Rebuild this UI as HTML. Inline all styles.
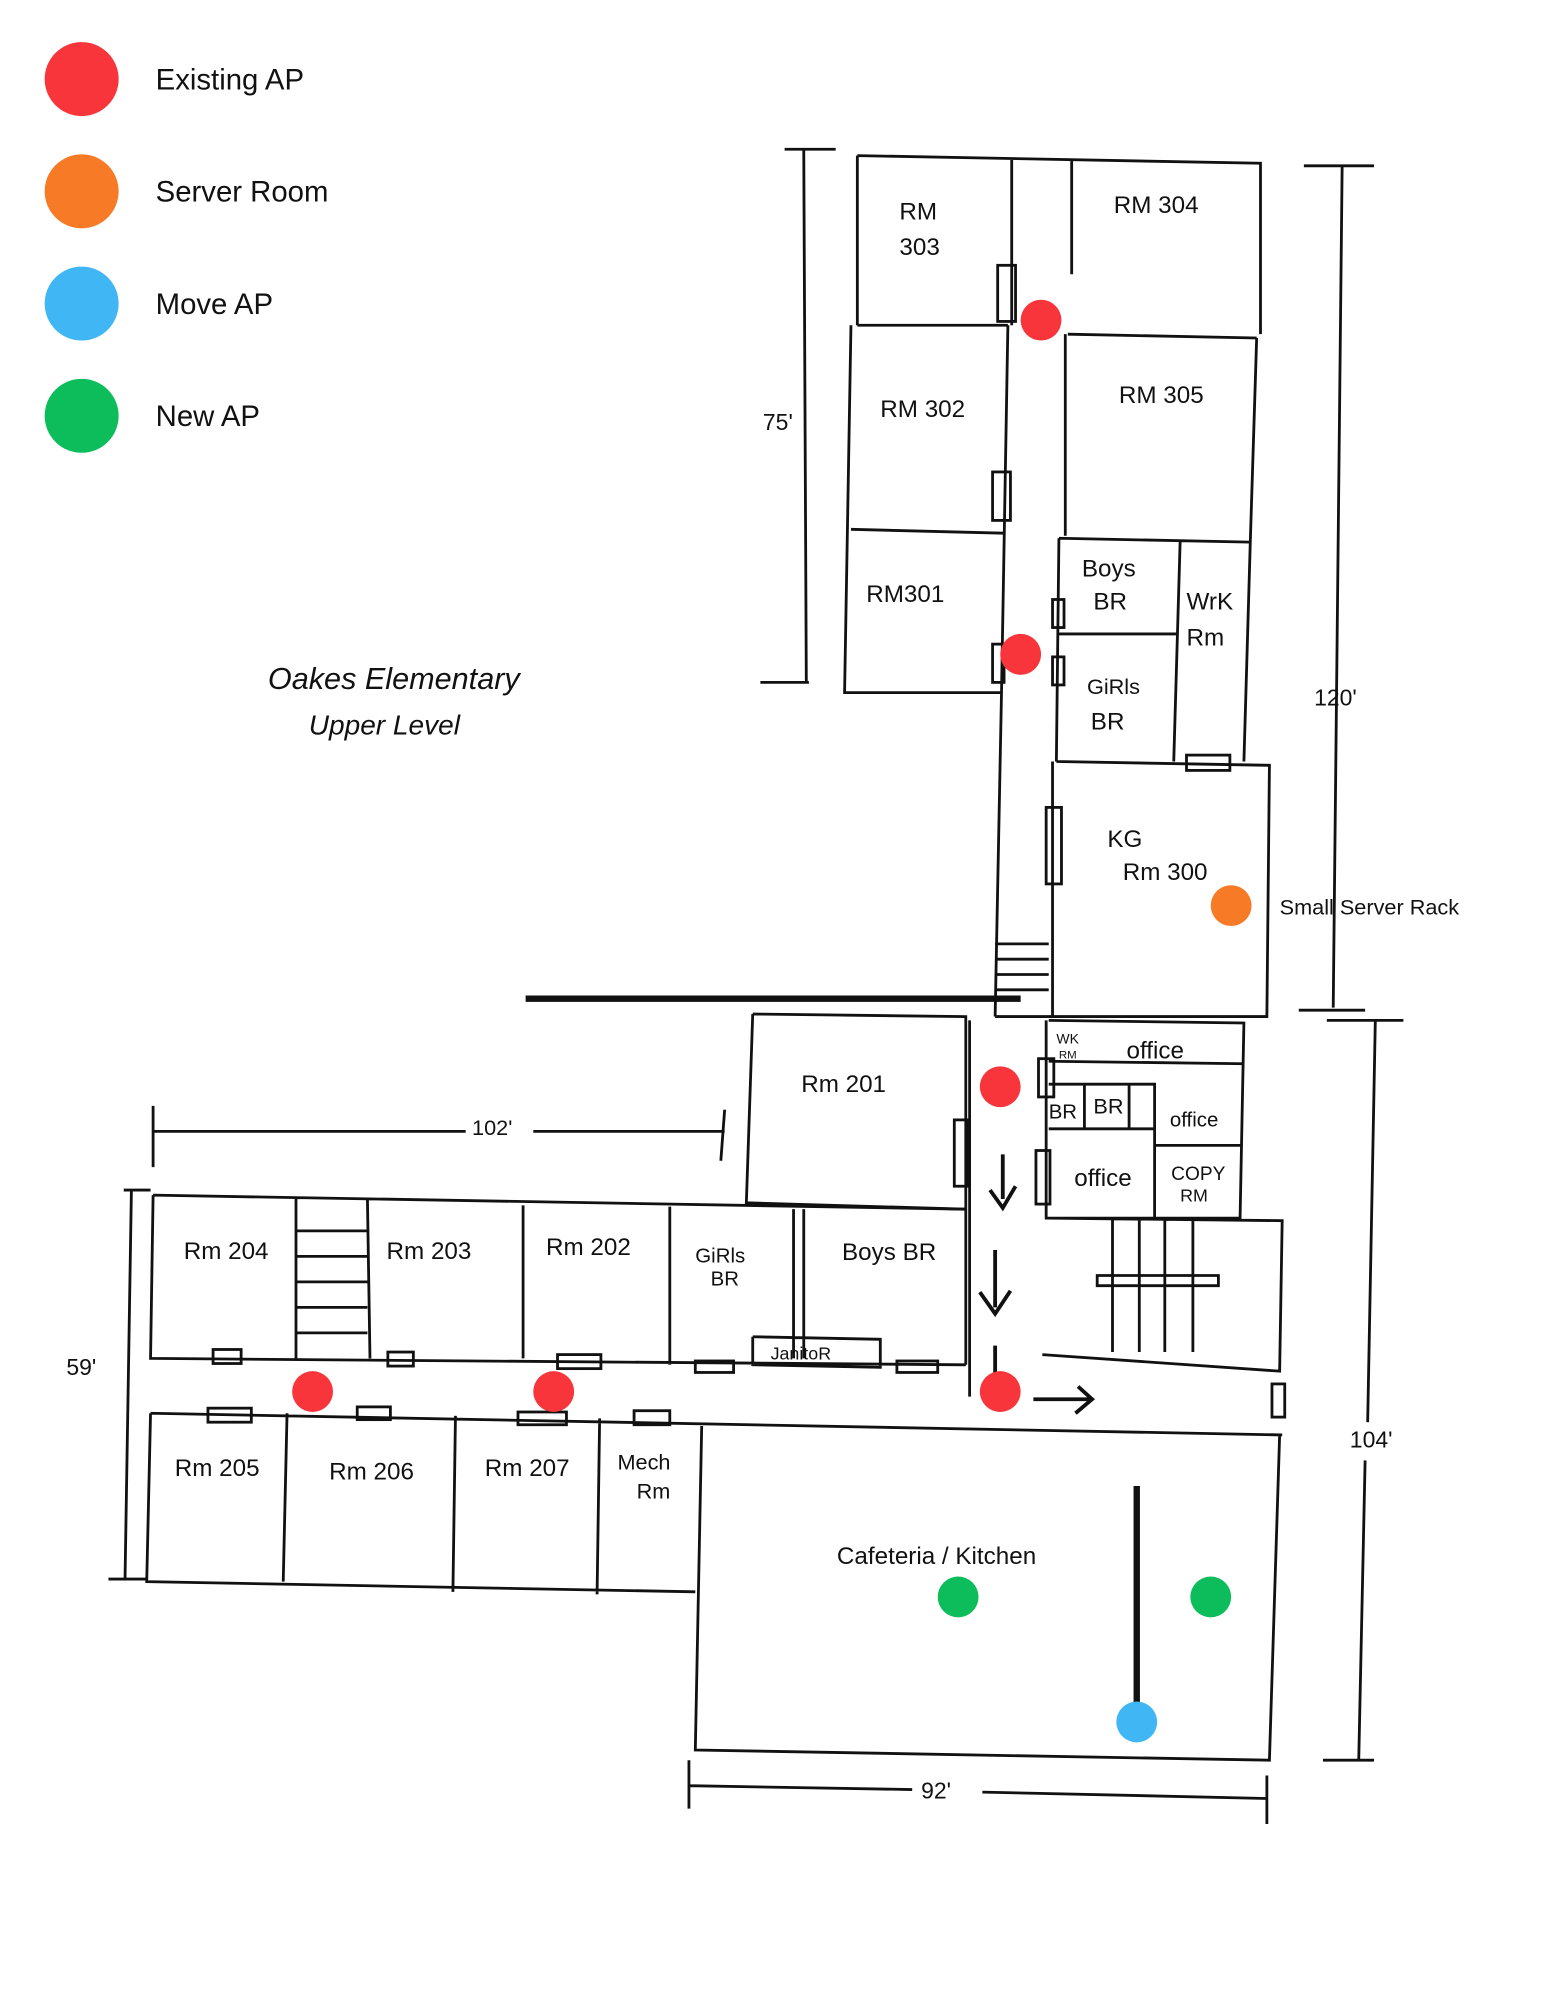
<!DOCTYPE html>
<html><head><meta charset="utf-8"><style>
html,body{margin:0;padding:0;background:#fff;}
svg{display:block;}
text{font-family:"Liberation Sans",sans-serif;fill:#111;}
.h{font-family:"Liberation Serif",serif;font-size:19px;}
</style></head><body>
<svg width="1545" height="2000" viewBox="0 0 1211 1568" preserveAspectRatio="none" xmlns="http://www.w3.org/2000/svg">
<!-- legend -->
<circle cx="64" cy="62" r="29" fill="#f7353a"/>
<circle cx="64" cy="150" r="29" fill="#f77b27"/>
<circle cx="64" cy="238" r="29" fill="#41b6f5"/>
<circle cx="64" cy="326" r="29" fill="#0dbd5b"/>
<text x="122" y="70" font-size="23">Existing AP</text>
<text x="122" y="158" font-size="23">Server Room</text>
<text x="122" y="246" font-size="23">Move  AP</text>
<text x="122" y="334" font-size="23">New AP</text>

<g stroke="#111" stroke-width="2.2" fill="none">
<path d="M672 122 L988 128 L988 262 M672 122 L672 255 M793 124 L793 255 M840 125 L840 215 M837 262 L985 265 M672 255 L790 255 M667 255 L662 543 L785 543 M667 415 L787 418 M790 255 L785 543 M835 262 L835 420 M985 265 L980 425 M830 422 L980 425 M830 422 L828 597 M830 497 L922 497 M925 425 L920 597 M980 425 L975 597 M828 597 L995 600 L993 797 L780 797 M785 543 L780 797 M825 597 L825 797"/>
<rect x="782" y="208" width="14" height="44"/>
<rect x="778" y="370" width="14" height="38"/>
<rect x="825" y="470" width="9" height="22"/>
<rect x="825" y="515" width="9" height="22"/>
<rect x="778" y="505" width="9" height="30"/>
<rect x="930" y="592" width="34" height="12"/>
<rect x="820" y="633" width="12" height="60"/>
<path d="M780 740 L822 740 M780 752 L822 752 M780 764 L822 764 M780 776 L822 776"/>
<path d="M615 117 L655 117 M630 117 L632 535 M596 535 L634 535 M1022 130 L1077 130 M1052 130 L1045 790 M1018 792 L1070 792"/>
<path d="M590 795 L757 797 L757 1070 M590 795 L585 943 L757 948 M822 800 L975 802 L972 955 L820 955 L820 800 M822 832 L975 834 M822 850 L905 850 L905 955 M850 850 L850 885 M885 850 L885 885 M822 885 L905 885 M905 898 L972 898 M820 955 L1005 957 L1003 1075 L817 1062 M872 955 L872 1060 M893 955 L893 1060 M913 955 L913 1060 M935 955 L935 1060 M860 1000 L955 1000 L955 1008 L860 1008 Z M760 800 L760 1095"/>
<rect x="748" y="878" width="11" height="52"/>
<rect x="814" y="830" width="12" height="30"/>
<rect x="812" y="902" width="11" height="42"/>
<path d="M120 937 L757 948 M120 937 L118 1065 L757 1070 M232 940 L232 1065 M288 940 L290 1065 M410 945 L410 1065 M525 946 L525 1070 M622 948 L622 1065 M630 948 L630 1065 M232 965 L288 965 M232 985 L288 985 M232 1005 L288 1005 M232 1025 L288 1025 M232 1045 L288 1045 M118 1108 L1005 1125 M118 1108 L115 1240 L545 1248 M225 1108 L222 1240 M357 1110 L355 1248 M470 1112 L468 1250 M550 1118 L545 1372 L995 1380 L1003 1125 M590 1048 L590 1070 L690 1072 L690 1050 L590 1048"/>
<rect x="167" y="1058" width="22" height="11"/><rect x="304" y="1060" width="20" height="11"/><rect x="437" y="1062" width="34" height="11"/><rect x="545" y="1067" width="30" height="9"/><rect x="703" y="1067" width="32" height="9"/>
<rect x="163" y="1104" width="34" height="11"/><rect x="280" y="1103" width="26" height="10"/><rect x="406" y="1107" width="38" height="10"/><rect x="497" y="1106" width="28" height="11"/>
<rect x="997" y="1085" width="10" height="26"/>
<path d="M120 867 L120 915 M120 887 L365 887 M418 887 L568 887 M568 870 L565 910 M97 933 L118 933 M103 933 L98 1238 M85 1238 L115 1238 M1040 800 L1100 800 M1078 800 L1072 1115 M1070 1145 L1065 1380 M1037 1380 L1077 1380 M540 1380 L540 1418 M540 1400 L715 1403 M770 1405 L993 1410 M993 1392 L993 1430"/>
<path d="M786 905 L786 940 M776 933 L786 947 L796 930 M780 980 L780 1025 M768 1013 L780 1030 L792 1012 M780 1055 L780 1080 M810 1097 L855 1097 M845 1087 L856 1097 L843 1108" stroke-width="3"/>
</g>
<line x1="412" y1="783" x2="800" y2="783" stroke="#111" stroke-width="5"/>
<line x1="891" y1="1165" x2="891" y2="1350" stroke="#111" stroke-width="5"/>

<g class="h">
<text x="705" y="172">RM</text><text x="705" y="200">303</text>
<text x="873" y="167">RM 304</text>
<text x="690" y="327">RM 302</text>
<text x="877" y="316">RM 305</text>
<text x="679" y="472">RM301</text>
<text x="848" y="452">Boys</text><text x="857" y="478">BR</text>
<text x="930" y="478">WrK</text><text x="930" y="506">Rm</text>
<text x="852" y="544" font-size="17">GiRls</text><text x="855" y="572">BR</text>
<text x="868" y="664">KG</text><text x="880" y="690">Rm 300</text>
<text x="598" y="337" font-size="18">75'</text>
<text x="1030" y="553" font-size="18">120'</text>
<text x="210" y="540" font-size="24" font-style="italic">Oakes  Elementary</text>
<text x="242" y="576" font-size="22" font-style="italic">Upper Level</text>
<text x="628" y="856">Rm 201</text>
<text x="828" y="818" font-size="11">WK</text><text x="830" y="830" font-size="9">RM</text>
<text x="883" y="830">office</text>
<text x="822" y="877" font-size="16">BR</text><text x="857" y="873" font-size="17">BR</text>
<text x="917" y="883" font-size="16">office</text>
<text x="842" y="930">office</text>
<text x="918" y="925" font-size="15">COPY</text><text x="925" y="942" font-size="14">RM</text>
<text x="370" y="890" font-size="17">102'</text>
<text x="144" y="987">Rm 204</text>
<text x="303" y="987">Rm 203</text>
<text x="428" y="984">Rm 202</text>
<text x="545" y="990" font-size="16">GiRls</text><text x="557" y="1008" font-size="16">BR</text>
<text x="660" y="988">Boys BR</text>
<text x="604" y="1066" font-size="14">JanitoR</text>
<text x="52" y="1078" font-size="18">59'</text>
<text x="137" y="1157">Rm 205</text>
<text x="258" y="1160">Rm 206</text>
<text x="380" y="1157">Rm 207</text>
<text x="484" y="1152" font-size="17">Mech</text><text x="499" y="1175" font-size="17">Rm</text>
<text x="656" y="1226">Cafeteria  /  Kitchen</text>
<text x="1058" y="1135" font-size="18">104'</text>
<text x="722" y="1410" font-size="18">92'</text>
</g>
<text x="1003" y="717" font-size="17">Small Server Rack</text>

<g fill="#f7353a">
<circle cx="816" cy="251" r="16"/><circle cx="800" cy="513" r="16"/><circle cx="784" cy="852" r="16"/>
<circle cx="245" cy="1091" r="16"/><circle cx="434" cy="1091" r="16"/><circle cx="784" cy="1091" r="16"/>
</g>
<circle cx="965" cy="710" r="16" fill="#f77b27"/>
<circle cx="751" cy="1252" r="16" fill="#0dbd5b"/>
<circle cx="949" cy="1252" r="16" fill="#0dbd5b"/>
<circle cx="891" cy="1350" r="16" fill="#41b6f5"/>
</svg>
</body></html>
